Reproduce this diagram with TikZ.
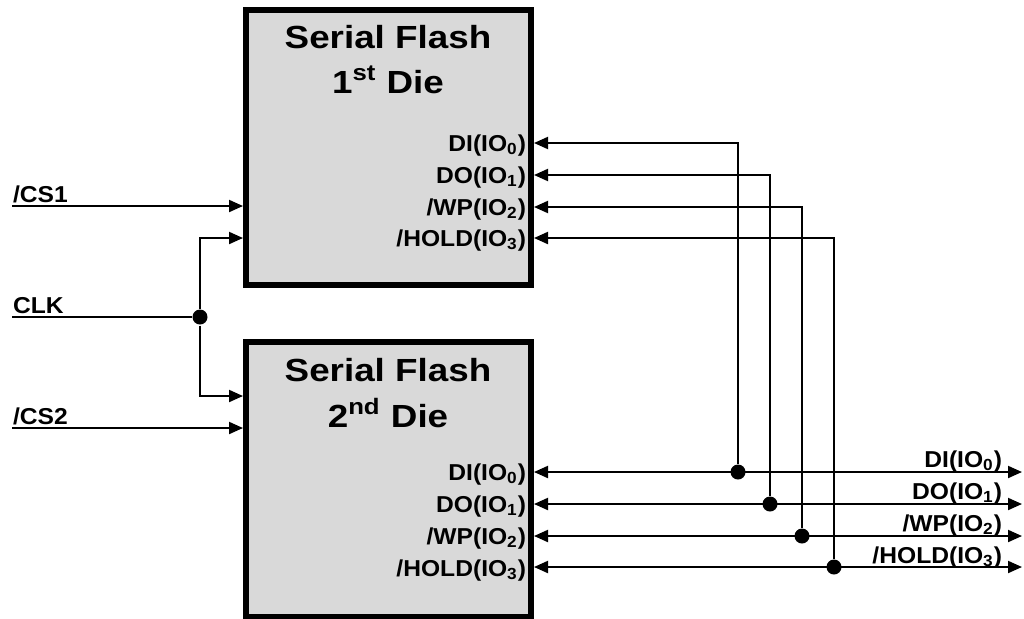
\documentclass[tikz,border=0pt]{standalone}
\usepackage{fontspec}
\setmainfont{Liberation Sans}[FakeStretch=1.15]
\newfontfamily\pinfont{Liberation Sans}[FakeStretch=1.07]
\usetikzlibrary{arrows.meta}

\begin{document}
\begin{tikzpicture}[x=0.5pt, y=-0.5pt, line width=1pt,
                    die/.style={rectangle, draw, line width=3pt, fill=black!15,
                                minimum width=142.5pt, minimum height=137.5pt},
                    title/.style={font=\fontsize{16}{19}\selectfont\bfseries, anchor=base},
                    pin/.style={font=\pinfont\fontsize{11.5}{13}\selectfont\bfseries, anchor=base east, inner sep=0pt},
                    sig/.style={font=\pinfont\fontsize{11.5}{13}\selectfont\bfseries, anchor=base west, inner sep=0pt},
                    dot/.style={circle, fill, inner sep=0pt, minimum size=7.5pt},
                    tip/.style={-{Triangle[length=7pt,width=6pt]}},
                    both/.style={{Triangle[length=7pt,width=6pt]}-{Triangle[length=7pt,width=6pt]}}]

  \useasboundingbox (0,0) rectangle (1024,618);

  % the two dies
  \node[die] (die1) at (388.5,147.5) {};
  \node[die] (die2) at (388.5,479.5) {};
  \node[title] (t1a) at (388,48) {Serial Flash};
  \node[title] (t1b) at (388,93) {1\textsuperscript{st} Die};
  \node[title] (t2a) at (388,381) {Serial Flash};
  \node[title] (t2b) at (388,427) {2\textsuperscript{nd} Die};

  % pin labels
  \node[pin] (d1l0) at (527,151) {DI(IO\textsubscript{0})};
  \node[pin] (d1l1) at (527,183) {DO(IO\textsubscript{1})};
  \node[pin] (d1l2) at (527,215) {/WP(IO\textsubscript{2})};
  \node[pin] (d1l3) at (527,246) {/HOLD(IO\textsubscript{3})};
  \node[pin] (d2l0) at (527,480) {DI(IO\textsubscript{0})};
  \node[pin] (d2l1) at (527,512) {DO(IO\textsubscript{1})};
  \node[pin] (d2l2) at (527,544) {/WP(IO\textsubscript{2})};
  \node[pin] (d2l3) at (527,576) {/HOLD(IO\textsubscript{3})};

  % inputs on the left
  \coordinate (cs1) at (12,206);
  \coordinate (clk) at (12,317);
  \coordinate (cs2) at (12,428);
  \node[sig] (cs1l) at (12,202) {/CS1};
  \node[sig] (clkl) at (12,313) {CLK};
  \node[sig] (cs2l) at (12,424) {/CS2};
  \node[dot] (clkdot) at (200,317) {};

  \draw[tip] (cs1) -- (cs1 -| die1.west);
  \draw[tip] (cs2) -- (cs2 -| die2.west);
  \draw (clk) -- (clkdot);
  \draw[tip] (clkdot) |- (die1.west |- 0,238);
  \draw[tip] (clkdot) |- (die2.west |- 0,396);

  % shared IO bus on the right
  \foreach \i/\y/\x in {0/143/738, 1/175/770, 2/207/802, 3/238/834} {
    \coordinate (out\i) at (1022,\y+329);
    \node[dot] (bus\i) at (\x,\y+329) {};
    \draw[tip] (bus\i) |- (die1.east |- 0,\y);
    \draw[both] (die2.east |- out\i) -- (out\i);
  }

  \node[pin] (o0) at (1003,467) {DI(IO\textsubscript{0})};
  \node[pin] (o1) at (1003,499) {DO(IO\textsubscript{1})};
  \node[pin] (o2) at (1003,531) {/WP(IO\textsubscript{2})};
  \node[pin] (o3) at (1003,563) {/HOLD(IO\textsubscript{3})};

\end{tikzpicture}
\end{document}
